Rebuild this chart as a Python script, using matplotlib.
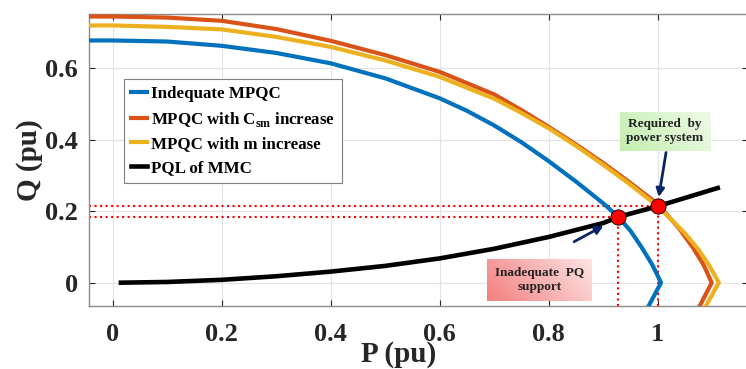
import matplotlib
matplotlib.use('Agg')
import matplotlib.pyplot as plt
import matplotlib.colors as mcolors
import numpy as np

plt.rcParams['font.family'] = ['Liberation Serif', 'DejaVu Serif']
plt.rcParams['font.weight'] = 'bold'
plt.rcParams['mathtext.fontset'] = 'custom'
plt.rcParams['mathtext.rm'] = 'Liberation Serif:bold'
plt.rcParams['mathtext.bf'] = 'Liberation Serif:bold'

# curves (P, Q in pu)
p_ind = [-0.044, 0.0, 0.1, 0.2, 0.3, 0.4, 0.5, 0.6, 0.65, 0.7, 0.75, 0.8, 0.85, 0.9, 0.927, 0.95, 0.97, 0.99, 1.006, 0.978]
q_ind = [0.678, 0.678, 0.675, 0.663, 0.643, 0.614, 0.572, 0.516, 0.481, 0.440, 0.393, 0.340, 0.283, 0.222, 0.185, 0.145, 0.100, 0.050, 0.0, -0.08]

p_csm = [-0.044, 0.0, 0.1, 0.2, 0.3, 0.4, 0.5, 0.6, 0.7, 0.75, 0.8, 0.85, 0.9, 0.95, 1.0, 1.04, 1.065, 1.084, 1.099, 1.072]
q_csm = [0.745, 0.745, 0.742, 0.733, 0.710, 0.677, 0.637, 0.590, 0.527, 0.483, 0.436, 0.387, 0.335, 0.279, 0.220, 0.150, 0.097, 0.050, 0.0, -0.08]

p_m = [-0.044, 0.0, 0.1, 0.2, 0.3, 0.4, 0.5, 0.6, 0.7, 0.75, 0.8, 0.85, 0.9, 0.95, 1.0, 1.05, 1.075, 1.096, 1.112, 1.083]
q_m = [0.720, 0.720, 0.716, 0.709, 0.688, 0.660, 0.622, 0.576, 0.515, 0.475, 0.432, 0.383, 0.330, 0.274, 0.214, 0.138, 0.092, 0.044, 0.0, -0.08]

p_pql = [0.015, 0.1, 0.2, 0.3, 0.4, 0.5, 0.6, 0.7, 0.8, 0.9, 0.93, 1.0, 1.11]
q_pql = [0.0, 0.002, 0.008, 0.018, 0.031, 0.047, 0.068, 0.095, 0.128, 0.167, 0.185, 0.214, 0.265]

# operating points
pt_p = [0.927, 1.0]
pt_q = [0.185, 0.214]

xticks = [0, 0.2, 0.4, 0.6, 0.8, 1]
xlabels = ['0', '0.2', '0.4', '0.6', '0.8', '1']
yticks = [0, 0.2, 0.4, 0.6]
ylabels = ['0', '0.2', '0.4', '0.6']

fig = plt.figure(figsize=(7.46, 3.69), dpi=100)
ax = fig.add_axes([0.119, 0.171, 0.884, 0.791])

xmin, xmax = -0.044, 1.166
ymin, ymax = -0.065, 0.752

# red dotted guide lines
for px, qy in zip(pt_p, pt_q):
    ax.plot([xmin, px], [qy, qy], color='red', ls=':', lw=1.5, zorder=2)
    ax.plot([px, px], [ymin, qy], color='red', ls=':', lw=1.5, zorder=2)

ax.plot(p_ind, q_ind, color='#0072BD', lw=3, label='Indequate MPQC', zorder=3)
ax.plot(p_csm, q_csm, color='#D95319', lw=3, label=r'MPQC with C$_{\rm sm}$ increase', zorder=3)
ax.plot(p_m, q_m, color='#EDB120', lw=3, label='MPQC with m increase', zorder=3)
ax.plot(p_pql, q_pql, color='black', lw=3.3, label='PQL of MMC', zorder=4)
ax.plot(pt_p, pt_q, 'o', color='red', mec='black', mew=0.6, ms=11, zorder=5)

# annotations
ax.annotate('', xy=(0.905, 0.163), xytext=(0.842, 0.111),
            arrowprops=dict(arrowstyle='-|>', color='#0b2466', lw=2, mutation_scale=12), zorder=6)
ax.annotate('', xy=(1.001, 0.232), xytext=(1.016, 0.372),
            arrowprops=dict(arrowstyle='-|>', color='#0b2466', lw=2, mutation_scale=12), zorder=6)
t1 = ax.text(0.783, 0.008, 'Inadequate  PQ\nsupport', ha='center', va='center', fontsize=9.5,
             color='#222222', linespacing=1.2,
             bbox=dict(boxstyle='square,pad=0.6', fc='none', ec='none'), zorder=7)
t2 = ax.text(1.013, 0.424, 'Required  by\npower system', ha='center', va='center', fontsize=9.5,
             color='#222222', linespacing=1.2,
             bbox=dict(boxstyle='square,pad=0.5', fc='none', ec='none'), zorder=7)

ax.set_xticks(xticks)
ax.set_xticklabels(xlabels)
ax.set_yticks(yticks)
ax.set_yticklabels(ylabels)
ax.tick_params(direction='in', top=True, right=True, labelsize=19, colors='#262626',
               length=4, width=0.8)
ax.tick_params(axis='x', pad=12)
ax.tick_params(axis='y', pad=8)
for lab in ax.get_xticklabels() + ax.get_yticklabels():
    lab.set_fontweight('bold')
for s in ax.spines.values():
    s.set_color('#8c8c8c')
    s.set_linewidth(1.0)
ax.grid(True, color='#e3e3e3', lw=0.8)
ax.set_axisbelow(True)

ax.set_xlabel('P (pu)', fontsize=21, fontweight='bold', color='#262626')
ax.set_ylabel('Q (pu)', fontsize=21, fontweight='bold', color='#262626')
ax.xaxis.set_label_coords(0.47, -0.12)
ax.yaxis.set_label_coords(-0.07, 0.5)

leg = ax.legend(loc='upper left', bbox_to_anchor=(0.053, 0.777), fontsize=12.2,
                handlelength=1.0, handletextpad=0.2, borderpad=0.4, labelspacing=0.45,
                fancybox=False, framealpha=1, edgecolor='#7f7f7f', borderaxespad=0)
leg.get_frame().set_linewidth(0.8)
for t in leg.get_texts():
    t.set_fontweight('bold')

ax.set_xlim(xmin, xmax)
ax.set_ylim(ymin, ymax)

# gradient fills behind the two note boxes
fig.canvas.draw()
rend = fig.canvas.get_renderer()
gx, gy = np.meshgrid(np.linspace(0, 1, 200), np.linspace(0, 1, 60))
w = np.clip(0.75 * gx + 0.25 * (1 - gy), 0, 1)
for t, c0, c1 in [(t1, '#f47f7f', '#fde4e4'), (t2, '#c3eeae', '#effbe8')]:
    bb = t.get_bbox_patch().get_window_extent(rend)
    (x0, y0), (x1, y1) = ax.transData.inverted().transform([[bb.x0, bb.y0], [bb.x1, bb.y1]])
    a = np.array(mcolors.to_rgb(c0))
    b = np.array(mcolors.to_rgb(c1))
    img = a[None, None, :] * (1 - w[..., None]) + b[None, None, :] * w[..., None]
    ax.imshow(img, extent=(x0, x1, y0, y1), origin='upper', aspect='auto', zorder=6.5)

ax.set_xlim(xmin, xmax)
ax.set_ylim(ymin, ymax)

fig.savefig('out.png', dpi=100)
